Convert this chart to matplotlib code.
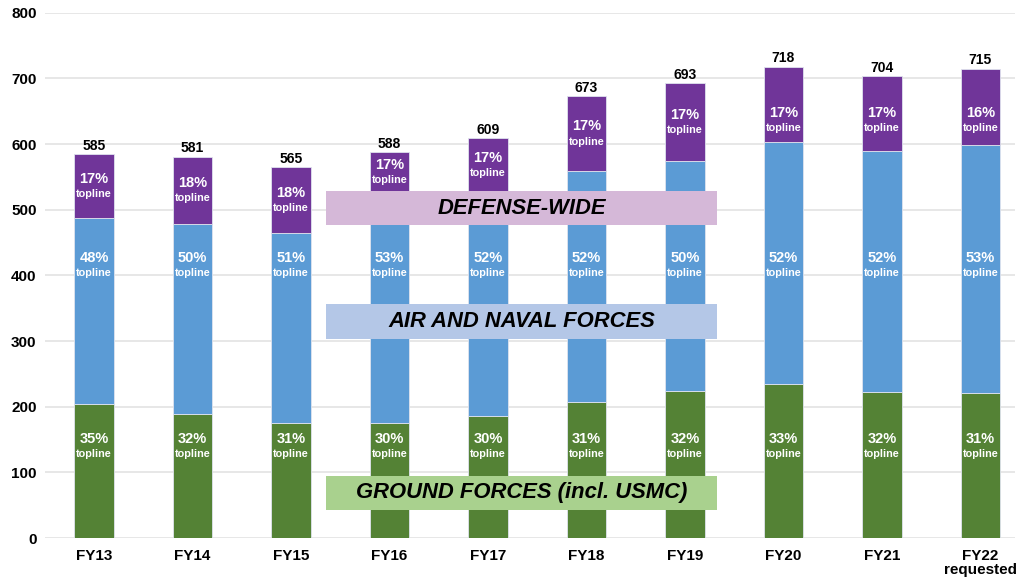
import matplotlib.pyplot as plt
import numpy as np

plt.rcParams['font.family'] = ['Liberation Sans', 'DejaVu Sans']

# $ billions
years = ['FY13', 'FY14', 'FY15', 'FY16', 'FY17', 'FY18', 'FY19', 'FY20', 'FY21', 'FY22\nrequested']
totals = [585, 581, 565, 588, 609, 673, 693, 718, 704, 715]
ground = [205, 189, 176, 176, 186, 207, 224, 234, 223, 221]
air_naval = [283, 290, 289, 312, 317, 352, 351, 369, 367, 377]
defense_wide = [97, 102, 100, 100, 106, 114, 118, 115, 114, 117]

ground_pct = [35, 32, 31, 30, 30, 31, 32, 33, 32, 31]
air_naval_pct = [48, 50, 51, 53, 52, 52, 50, 52, 52, 53]
defense_wide_pct = [17, 18, 18, 17, 17, 17, 17, 17, 17, 16]

GREEN = '#548235'
BLUE = '#5b9bd5'
PURPLE = '#703599'

fig = plt.figure(figsize=(10.23, 5.83), dpi=100)
ax = fig.add_axes([0.044, 0.077, 0.948, 0.901])

x = np.arange(len(years))
w = 0.4
g = np.array(ground)
a = np.array(air_naval)
d = np.array(defense_wide)

edge = dict(edgecolor='#dfe3ee', linewidth=0.6)
ax.bar(x, g, w, color=GREEN, zorder=2, **edge)
ax.bar(x, a, w, bottom=g, color=BLUE, zorder=2, **edge)
ax.bar(x, d, w, bottom=g + a, color=PURPLE, zorder=2, **edge)

# category bands drawn over the middle bars
bands = [
    (477, 528, '#d5b8d8', 'DEFENSE-WIDE'),
    (304, 356, '#b4c7e7', 'AIR AND NAVAL FORCES'),
    (43, 95, '#a9d18e', 'GROUND FORCES (incl. USMC)'),
]
bx0, bx1 = 2.355, 6.325
for y0, y1, col, label in bands:
    ax.add_patch(plt.Rectangle((bx0, y0), bx1 - bx0, y1 - y0, facecolor=col,
                               edgecolor='none', zorder=4))
    ax.text((bx0 + bx1) / 2, (y0 + y1) / 2, label, ha='center', va='center',
            fontsize=15.8, fontweight='bold', fontstyle='italic', color='black', zorder=5)

def seg_label(xi, yc, pct):
    ax.text(xi, yc + 11, f'{pct}%', ha='center', va='center', color='white',
            fontsize=10.5, fontweight='bold', zorder=3)
    ax.text(xi, yc - 12, 'topline', ha='center', va='center', color='white',
            fontsize=7.8, fontweight='bold', zorder=3)

band_top = bands[0][1]
for i in range(len(x)):
    seg_label(x[i], 140, ground_pct[i])
    seg_label(x[i], 415, air_naval_pct[i])
    top = g[i] + a[i] + d[i]
    low = g[i] + a[i]
    if bx0 < x[i] < bx1:
        low = max(low, band_top)
    seg_label(x[i], min((low + top) / 2, 636), defense_wide_pct[i])
    ax.text(x[i], totals[i] + 2, str(totals[i]), ha='center', va='bottom',
            fontsize=10, fontweight='bold', color='black', zorder=3)

ax.set_xlim(-0.497, 9.35)
ax.set_ylim(0, 800)
ax.set_yticks(range(0, 801, 100))
ax.set_xticks(x)
ax.set_xticklabels(years, fontsize=11, fontweight='bold', linespacing=1.0)
for lbl in ax.get_yticklabels():
    lbl.set_fontweight('bold')
    lbl.set_fontsize(11)
ax.tick_params(axis='both', length=0, pad=8)
ax.tick_params(axis='y', pad=6)
ax.grid(axis='y', color='#e3e3e3', linewidth=1.2, zorder=0)
ax.set_axisbelow(True)
for s in ax.spines.values():
    s.set_visible(False)

fig.savefig('out.png', dpi=100)
